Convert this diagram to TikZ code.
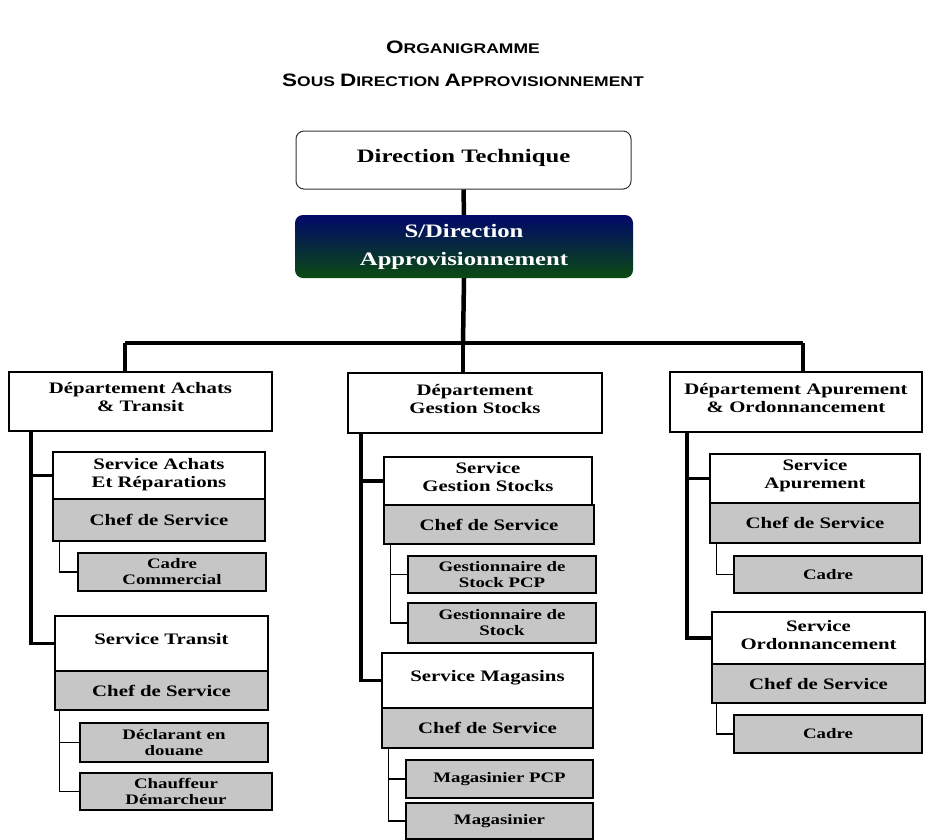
\documentclass[tikz,border=0pt]{standalone}
\usepackage{fontspec}
\setmainfont{Liberation Serif}[FakeStretch=1.3]
\newfontfamily\headfont{Liberation Sans}[FakeStretch=1.25]
\newcommand\capbig{\fontsize{18}{20}\selectfont}
\newcommand\capsmall{\fontsize{14}{20}\selectfont}
\definecolor{chefgray}{HTML}{C6C6C6}
\definecolor{topblue}{HTML}{02086A}
\definecolor{botgreen}{HTML}{0B4A12}
\begin{document}
\begin{tikzpicture}[x=1pt,y=-1pt,
  boxsize/.style 2 args={minimum width=#1, minimum height=#2},
  head/.style={font=\headfont\bfseries},
  dept/.style={draw, line width=2.5pt, fill=white, align=center, inner sep=0pt, text depth=9pt, font=\bfseries\fontsize{16}{18}\selectfont},
  chef/.style={dept, fill=chefgray, text depth=0pt},
  sub/.style={draw, line width=1.3pt, fill=chefgray, align=center, inner sep=0pt, font=\bfseries\fontsize{14.5}{16}\selectfont},
  trunk/.style={line width=3.5pt},
  twig/.style={line width=1.3pt}]
\useasboundingbox (0,0) rectangle (928,839);

% titre
\node(t1) at (463,47) [head]{\capbig O\capsmall RGANIGRAMME};
\node(t2) at (463,80) [head]{\capbig S\capsmall OUS \capbig D\capsmall IRECTION \capbig A\capsmall PPROVISIONNEMENT};

% direction
\node(dt) at (463.5,160) [draw=black!80, line width=1pt, rounded corners=8pt, boxsize={335}{58}, text depth=8pt, font=\bfseries\fontsize{19}{22}\selectfont]{Direction Technique};
\node(sd) at (464,246.5) [rounded corners=8pt, boxsize={338}{63}, top color=topblue, bottom color=botgreen, text=white, align=center, font=\bfseries\fontsize{19}{28}\selectfont]{S/Direction\\Approvisionnement};
\draw[line width=4.5pt] (dt) to (sd);

% barre et departements
\coordinate(bA) at (125,343);
\coordinate(bG) at (463,343);
\coordinate(bO) at (803,343);
\draw[line width=4.5pt] (sd.south) to (bG);
\draw[line width=4.5pt] (bA) to (bO);
\node(dA) at (140.5,401.5) [dept, boxsize={263}{59}]{D\'epartement Achats\\\& Transit};
\node(dG) at (475,403) [dept, boxsize={254}{60}]{D\'epartement\\Gestion Stocks};
\node(dO) at (796,402) [dept, boxsize={252}{60}]{D\'epartement Apurement\\\& Ordonnancement};
\draw[line width=4.5pt] (bA) to (bA |- dA.north);
\draw[line width=4.5pt] (bG) to (bG |- dG.north);
\draw[line width=4.5pt] (bO) to (bO |- dO.north);

% achats & transit
\node(sAR) at (159,475.5) [dept, boxsize={212}{47}, text depth=6pt]{Service Achats\\Et R\'eparations};
\node(cAR) at (159,520) [chef, boxsize={212}{42}]{Chef de Service};
\node(kCC) at (172,572) [sub, boxsize={188}{38}]{Cadre\\Commercial};
\node(sTR) at (161.5,643.5) [dept, boxsize={213}{55}]{Service Transit};
\node(cTR) at (161.5,690.5) [chef, boxsize={213}{39}]{Chef de Service};
\node(kDD) at (174,742.5) [sub, boxsize={188}{39}]{D\'eclarant en\\douane};
\node(kCD) at (176,791.5) [sub, boxsize={192}{37}]{Chauffeur\\D\'emarcheur};
\draw[trunk] ([xshift=23pt]dA.south west) |- (sTR.west);
\draw[trunk] ([xshift=23pt]dA.south west |- sAR.west) to (sAR.west);
\draw[twig] ([xshift=8pt]cAR.south west) |- (kCC.west);
\draw[twig] ([xshift=6pt]cTR.south west) |- (kCD.west);
\draw[twig] ([xshift=6pt]cTR.south west |- kDD.west) to (kDD.west);

% gestion stocks
\node(sGS) at (488,481) [dept, boxsize={208}{48}]{Service\\Gestion Stocks};
\node(cGS) at (489,524.5) [chef, boxsize={210}{39}]{Chef de Service};
\node(kGP) at (502,574.5) [sub, boxsize={188}{37}]{Gestionnaire de\\Stock PCP};
\node(kGS) at (502,623) [sub, boxsize={188}{40}]{Gestionnaire de\\Stock};
\node(sMG) at (487.5,680.5) [dept, boxsize={211}{55}]{Service Magasins};
\node(cMG) at (487.5,728) [chef, boxsize={211}{40}]{Chef de Service};
\node(kMP) at (499.5,779) [sub, boxsize={187}{38}]{Magasinier PCP};
\node(kMA) at (499.5,821) [sub, boxsize={187}{36}]{Magasinier};
\draw[trunk] ([xshift=14pt]dG.south west) |- (sMG.west);
\draw[trunk] ([xshift=14pt]dG.south west |- sGS.west) to (sGS.west);
\draw[twig] ([xshift=8pt]cGS.south west) |- (kGS.west);
\draw[twig] ([xshift=8pt]cGS.south west |- kGP.west) to (kGP.west);
\draw[twig] ([xshift=8pt]cMG.south west) |- (kMA.west);
\draw[twig] ([xshift=8pt]cMG.south west |- kMP.west) to (kMP.west);

% apurement & ordonnancement
\node(sAP) at (815,478.5) [dept, boxsize={210}{49}]{Service\\Apurement};
\node(cAP) at (815,523) [chef, boxsize={210}{40}]{Chef de Service};
\node(kC1) at (828,574.5) [sub, boxsize={188}{37}]{Cadre};
\node(sOR) at (818.5,638) [dept, boxsize={213}{52}, text depth=6pt]{Service\\Ordonnancement};
\node(cOR) at (818.5,683.5) [chef, boxsize={213}{39}]{Chef de Service};
\node(kC2) at (828,734) [sub, boxsize={188}{38}]{Cadre};
\draw[trunk] ([xshift=18pt]dO.south west) |- (sOR.west);
\draw[trunk] ([xshift=18pt]dO.south west |- sAP.west) to (sAP.west);
\draw[twig] ([xshift=8pt]cAP.south west) |- (kC1.west);
\draw[twig] ([xshift=6pt]cOR.south west) |- (kC2.west);
\end{tikzpicture}
\end{document}
